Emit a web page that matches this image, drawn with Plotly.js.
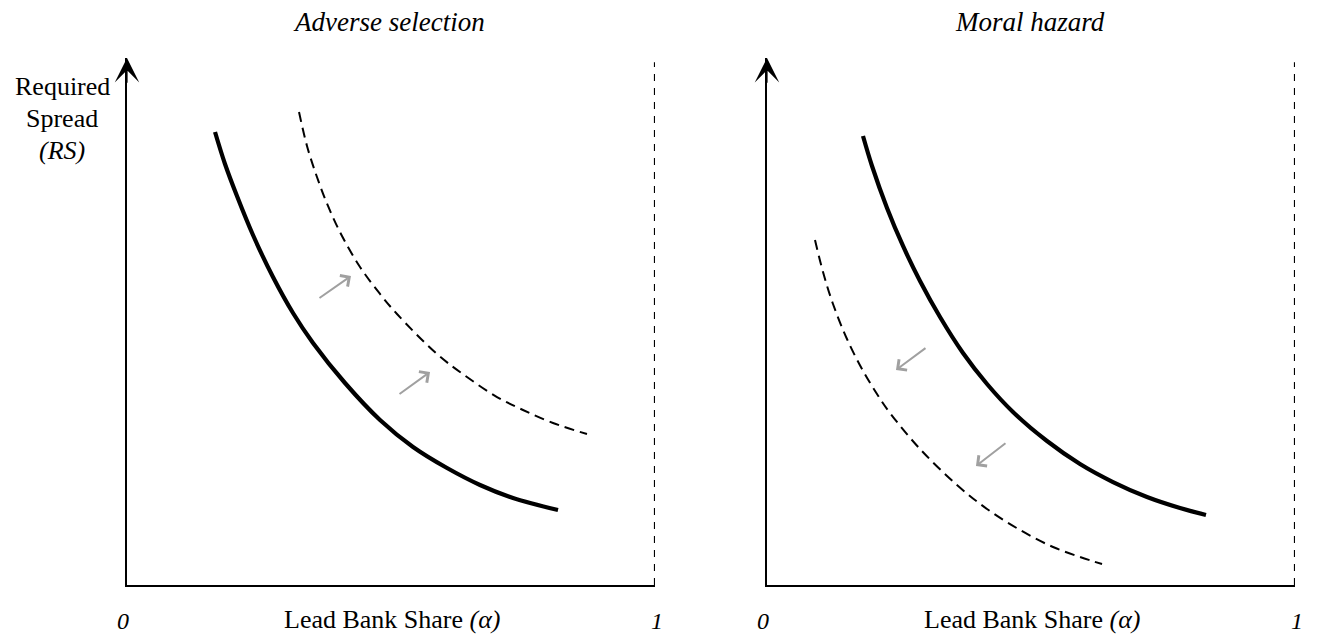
<!DOCTYPE html>
<html>
<head>
<meta charset="utf-8">
<script src="https://cdn.plot.ly/plotly-3.0.1.min.js"></script>
<style>html,body{margin:0;padding:0;background:#fff;}#chart{width:1321px;height:635px;}</style>
</head>
<body>
<div id="chart"></div>
<script>
// Panel titles and labels
const panelTitles = ["Adverse selection", "Moral hazard"];
const xAxisLabel = "Lead Bank Share <i>(α)</i>";
const yAxisLines = ["Required", "Spread", "<i>(RS)</i>"];
const xEndLabels = ["0", "1"];

// Left panel (adverse selection): original curve (solid) and shifted curve (dashed)
const asSolidX = [0.1667, 0.1856, 0.2083, 0.2386, 0.2765, 0.3144, 0.3523, 0.4129, 0.4792, 0.5417, 0.6061, 0.6686, 0.7311, 0.8163];
const asSolidY = [0.8596, 0.7989, 0.7381, 0.6641, 0.5844, 0.5161, 0.4592, 0.3833, 0.3131, 0.2619, 0.2220, 0.1898, 0.1651, 0.1423];
const asDashX = [0.3258, 0.3409, 0.3598, 0.3807, 0.4072, 0.4413, 0.4792, 0.5114, 0.5871, 0.6439, 0.7008, 0.7500, 0.8068, 0.8712];
const asDashY = [0.8975, 0.8330, 0.7742, 0.7192, 0.6622, 0.6034, 0.5522, 0.5142, 0.4383, 0.3947, 0.3567, 0.3321, 0.3074, 0.2865];

// Right panel (moral hazard)
const mhSolidX = [0.1818, 0.1989, 0.2273, 0.2576, 0.2898, 0.3277, 0.3712, 0.4167, 0.4659, 0.5303, 0.5928, 0.6553, 0.7197, 0.7822, 0.8314];
const mhSolidY = [0.8520, 0.7951, 0.7154, 0.6433, 0.5769, 0.5085, 0.4402, 0.3814, 0.3283, 0.2732, 0.2296, 0.1954, 0.1670, 0.1461, 0.1328];
const mhDashX = [0.0909, 0.1061, 0.1250, 0.1515, 0.1799, 0.2083, 0.2330, 0.2898, 0.3598, 0.4167, 0.4792, 0.5417, 0.5928, 0.6345];
const mhDashY = [0.6546, 0.5939, 0.5332, 0.4668, 0.4099, 0.3624, 0.3264, 0.2581, 0.1898, 0.1442, 0.1044, 0.0721, 0.0531, 0.0398];

// Shift arrows: tail (x0,y0) -> head (x1,y1)
const asArrowX0 = [0.3617, 0.5133];
const asArrowY0 = [0.5427, 0.3605];
const asArrowX1 = [0.4242, 0.5739];
const asArrowY1 = [0.5863, 0.4042];
const mhArrowX0 = [0.3030, 0.4545];
const mhArrowY0 = [0.4516, 0.2713];
const mhArrowX1 = [0.2443, 0.3958];
const mhArrowY1 = [0.4080, 0.2258];

const W = 1321, H = 635;
const FONT = "Liberation Serif, Times New Roman, serif";

const traces = [
  {x: asSolidX, y: asSolidY, xaxis: 'x', yaxis: 'y', mode: 'lines',
   line: {color: '#000', width: 4.2, shape: 'spline', smoothing: 1}},
  {x: asDashX, y: asDashY, xaxis: 'x', yaxis: 'y', mode: 'lines',
   line: {color: '#000', width: 2, dash: '10px,6px', shape: 'spline', smoothing: 1}},
  {x: mhSolidX, y: mhSolidY, xaxis: 'x2', yaxis: 'y2', mode: 'lines',
   line: {color: '#000', width: 4.2, shape: 'spline', smoothing: 1}},
  {x: mhDashX, y: mhDashY, xaxis: 'x2', yaxis: 'y2', mode: 'lines',
   line: {color: '#000', width: 2, dash: '10px,6px', shape: 'spline', smoothing: 1}}
];

const axBase = {range: [0, 1], showgrid: false, zeroline: false, showticklabels: false,
  ticks: '', showline: true, linecolor: '#000', linewidth: 2, fixedrange: true};

const yBottom = 585, yTop = 58;
const yDomain = [1 - yBottom / H, 1 - yTop / H];

const layout = {
  width: W, height: H,
  margin: {l: 0, r: 0, t: 0, b: 0},
  paper_bgcolor: '#fff', plot_bgcolor: 'rgba(0,0,0,0)',
  showlegend: false,
  font: {family: FONT, color: '#000', size: 26},
  xaxis: Object.assign({}, axBase, {domain: [127 / W, 655 / W], anchor: 'y'}),
  yaxis: Object.assign({}, axBase, {domain: yDomain, anchor: 'x'}),
  xaxis2: Object.assign({}, axBase, {domain: [767 / W, 1295 / W], anchor: 'y2'}),
  yaxis2: Object.assign({}, axBase, {domain: yDomain, anchor: 'x2'}),
  shapes: [],
  annotations: []
};

// Dashed vertical at share = 1 and y-axis arrow head, both panels
[['x', 'y'], ['x2', 'y2']].forEach(([xr, yr]) => {
  layout.shapes.push({type: 'line', xref: xr, yref: yr, x0: 1, x1: 1, y0: 0, y1: 0.992,
    line: {color: '#000', width: 2.2, dash: '7px,7px'}});
  layout.annotations.push({xref: xr, yref: yr, axref: xr, ayref: yr, x: 0, y: 1, ax: 0, ay: 0.95,
    text: '', showarrow: true, arrowhead: 3, arrowsize: 3.4, arrowwidth: 1.2, arrowcolor: '#000', standoff: 0});
});

// Gray shift arrows
function addArrows(xr, yr, X0, Y0, X1, Y1) {
  for (let i = 0; i < X0.length; i++) {
    layout.annotations.push({xref: xr, yref: yr, axref: xr, ayref: yr,
      x: X1[i], y: Y1[i], ax: X0[i], ay: Y0[i], text: '', showarrow: true,
      arrowhead: 4, arrowsize: 1.3, arrowwidth: 2, arrowcolor: '#a0a0a0', standoff: 0});
  }
}
addArrows('x', 'y', asArrowX0, asArrowY0, asArrowX1, asArrowY1);
addArrows('x2', 'y2', mhArrowX0, mhArrowY0, mhArrowX1, mhArrowY1);

function txt(x, y, text, size) {
  layout.annotations.push({xref: 'paper', yref: 'paper', x: x / W, y: 1 - y / H,
    xanchor: 'center', yanchor: 'middle', text: text, showarrow: false,
    font: {family: FONT, size: size, color: '#000'}});
}

// Titles
const titleCenters = [389, 1030];
panelTitles.forEach((t, i) => txt(titleCenters[i], 22, '<i>' + t + '</i>', 27));

// x labels
const xLabelCenters = [392, 1032];
const zeroPos = [123, 763];
const onePos = [657, 1297];
for (let i = 0; i < 2; i++) {
  txt(xLabelCenters[i], 619, xAxisLabel, 26);
  txt(zeroPos[i], 621, '<i>' + xEndLabels[0] + '</i>', 24);
  txt(onePos[i], 621, '<i>' + xEndLabels[1] + '</i>', 24);
}

// y label (three lines)
const yLabelRows = [86, 118, 150];
yAxisLines.forEach((t, i) => txt(62, yLabelRows[i], t, 26));

Plotly.newPlot('chart', traces, layout, {displayModeBar: false, staticPlot: true});
</script>
</body>
</html>
